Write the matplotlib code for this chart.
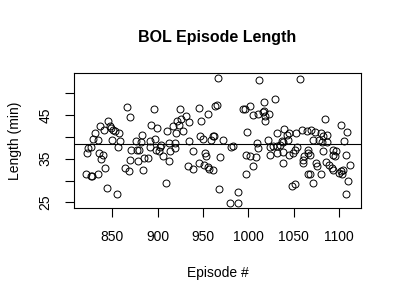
import matplotlib
import numpy as np
import matplotlib.pyplot as plt

matplotlib.use('Agg')
plt.rcParams['font.family'] = ['Liberation Sans', 'DejaVu Sans']

# номера выпусков и их длительность (мин)
episode = [866, 896, 925, 869, 931, 926, 845, 921, 924, 934,
           836, 841, 848, 849, 851, 853, 893, 899, 917, 831,
           857, 883, 910, 928, 920, 829, 834, 850, 858, 876,
           882, 892, 897, 912, 919, 934, 823, 827, 856, 891,
           903, 904, 919, 822, 835, 871, 877, 879, 898, 901,
           914, 840, 837, 870, 885, 889, 906, 913, 878, 842,
           864, 868, 884, 933, 821, 826, 828, 834, 909, 844,
           855,
           967, 1012, 1057, 1029, 965, 963, 994, 996, 1002, 945,
           955, 1005, 1010, 1016, 1017, 1018, 1023, 1017, 1018, 948,
           998, 1031, 1039, 1043, 1045, 1052, 1059, 1064, 947, 950,
           961, 959, 962, 972, 1022, 1037, 1044, 1009, 983, 981,
           1011, 1024, 1027, 1031, 1035, 1038, 1054, 1066, 939, 952,
           953, 969, 997, 1002, 1008, 1024, 1031, 1038, 1045, 1049,
           1051, 1061, 1060, 1060, 1066, 939, 946, 951, 955, 957,
           961, 1005, 1038, 997, 1066, 968, 988, 1048, 1051, 980,
           989,
           1084, 1102, 1109, 1105, 1069, 1073, 1080, 1082, 1087, 1071,
           1078, 1081, 1086, 1082, 1093, 1095, 1093, 1096, 1107, 1112,
           1068, 1074, 1075, 1085, 1089, 1092, 1093, 1100, 1103, 1102,
           1104, 1068, 1080, 1071, 1110, 1108]
length = [46.9, 46.4, 46.3, 44.6, 44.9, 44.1, 43.6, 43.6, 42.8, 43.4,
          42.6, 41.7, 42.4, 42.1, 41.7, 41.3, 42.8, 42.1, 42.4, 40.9,
          40.9, 40.5, 41.3, 41.3, 40.9, 39.5, 39.4, 39.4, 39.0, 39.0,
          38.8, 39.0, 39.6, 38.6, 38.6, 39.0, 37.5, 37.7, 37.7, 37.7,
          37.7, 38.2, 37.5, 36.3, 36.3, 36.9, 36.9, 36.9, 37.1, 36.7,
          36.7, 35.9, 34.9, 34.6, 35.2, 35.2, 35.6, 34.4, 34.4, 32.9,
          32.9, 32.1, 32.3, 33.4, 31.4, 31.1, 31.1, 31.4, 29.4, 28.3,
          26.8,
          53.5, 53.0, 53.3, 48.7, 47.4, 47.0, 46.4, 46.4, 47.0, 46.6,
          45.3, 45.1, 45.3, 45.7, 45.9, 44.7, 45.3, 47.9, 43.6, 43.7,
          41.1, 40.8, 41.8, 40.5, 40.8, 40.8, 41.7, 41.3, 40.3, 39.5,
          40.1, 39.4, 40.1, 39.4, 39.2, 39.0, 39.4, 38.6, 38.0, 37.7,
          37.5, 37.7, 37.9, 38.0, 38.2, 38.8, 37.7, 37.1, 36.7, 36.2,
          35.6, 35.4, 35.8, 35.6, 35.4, 35.8, 36.3, 36.5, 35.9, 36.3,
          36.9, 35.7, 34.8, 34.0, 36.2, 32.6, 34.0, 33.6, 33.1, 32.6,
          32.3, 33.4, 34.0, 31.6, 31.6, 28.1, 27.4, 28.8, 29.3, 24.9,
          24.9,
          44.1, 42.8, 41.1, 39.0, 41.5, 41.1, 40.8, 40.1, 40.5, 39.2,
          39.2, 38.8, 38.8, 36.7, 35.9, 35.6, 36.9, 36.7, 35.9, 33.6,
          35.9, 34.0, 33.4, 34.2, 33.6, 32.9, 32.5, 31.7, 31.4, 32.1,
          32.3, 31.4, 31.4, 29.4, 29.8, 26.8]
mean_len = 38.4

x_ticks = [850, 900, 950, 1000, 1050, 1100]
y_ticks = [25, 30, 35, 40, 45, 50]
y_labels = ['25', '', '35', '', '45', '']

fig = plt.figure(figsize=(4, 3), dpi=100)
ax = fig.add_axes([0.185, 0.3067, 0.7175, 0.45])

ax.plot(episode, length, 'o', mfc='none', mec='black', ms=5, mew=0.7)
ax.axhline(mean_len, color='black', lw=0.8)

ax.set_xlim(807.8, 1124)
ax.set_ylim(23.7, 54.66)
ax.set_xticks(x_ticks)
ax.set_yticks(y_ticks)
ax.set_yticklabels(y_labels, rotation=90, va='center')

for s in ax.spines.values():
    s.set_linewidth(0.8)
ax.tick_params(length=6.5, width=0.8, labelsize=10, pad=9)

ax.set_title('BOL Episode Length', fontsize=11.5, fontweight='bold', pad=22)
ax.set_xlabel('Episode #', fontsize=10, labelpad=16)
ax.set_ylabel('Length (min)', fontsize=10, labelpad=12)

fig.savefig('out.png', dpi=100)
